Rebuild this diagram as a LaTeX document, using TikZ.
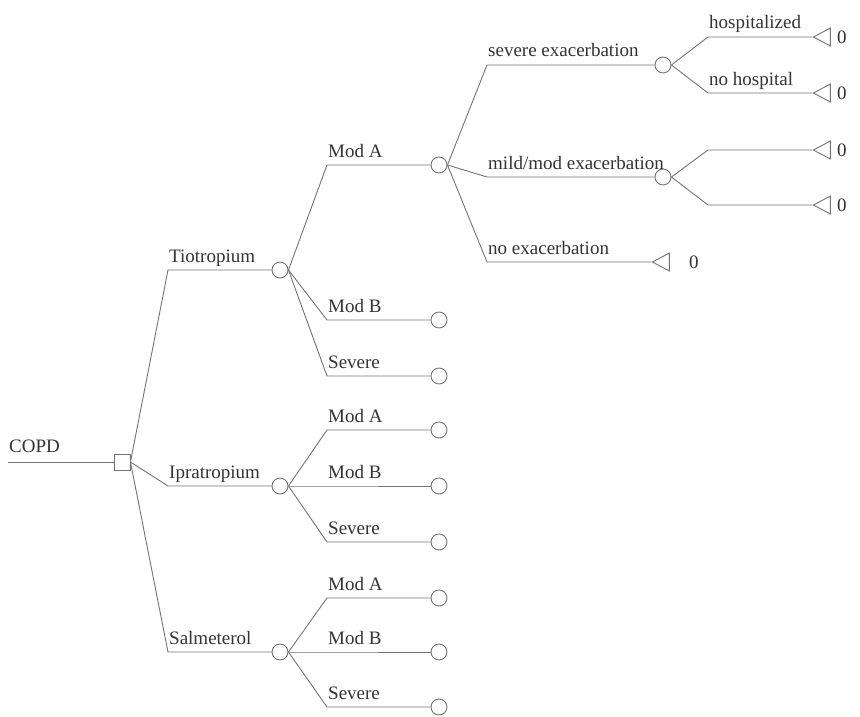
\documentclass[tikz,border=0pt]{standalone}
\usepackage{fontspec}
\setmainfont{Liberation Serif}
\usetikzlibrary{positioning, shapes.geometric}

\tikzset{
  branch/.style={draw=black!55, line width=0.9pt},
  chance/.style={circle, draw=black!55, line width=0.9pt, minimum size=16pt, inner sep=0pt},
  decision/.style={rectangle, draw=black!55, line width=0.9pt, minimum size=16pt, inner sep=0pt},
  terminal/.style={isosceles triangle, shape border rotate=180, isosceles triangle stretches,
    draw=black!55, line width=0.9pt, minimum width=18pt, minimum height=17pt, inner sep=0pt},
  lbl/.style={anchor=base west, inner sep=0pt, xshift=1pt, yshift=8pt, text=black!80},
  payoff/.style={inner sep=0pt, text=black!80}
}

\begin{document}
\begin{tikzpicture}[x=1pt, y=-1pt, font=\fontsize{19}{21}\selectfont]
        \useasboundingbox (0,0) rectangle (860,717);
        % root
        \coordinate (start) at (8,462);
        \node[decision] (dec) at (122,462) {};
        \node[lbl, yshift=2pt] (lCopd) at (start) {COPD};
        \draw[branch] (start) -- (dec);
        % drugs
        \coordinate (eTio) at (168,270);
        \coordinate (eIpr) at (168,486);
        \coordinate (eSal) at (168,652);
        \node[chance] (tio) at (280,270) {};
        \node[chance] (ipr) at (280,486) {};
        \node[chance] (sal) at (280,652) {};
        \node[lbl] (lTio) at (eTio) {Tiotropium};
        \node[lbl] (lIpr) at (eIpr) {Ipratropium};
        \node[lbl] (lSal) at (eSal) {Salmeterol};
        \draw[branch] (dec.east) -- (eTio) -- (tio);
        \draw[branch] (dec.east) -- (eIpr) -- (ipr);
        \draw[branch] (dec.east) -- (eSal) -- (sal);
        % severity under Tiotropium
        \coordinate (eTioA) at (327,165);
        \coordinate (eTioB) at (327,320);
        \coordinate (eTioS) at (327,376);
        \node[chance] (tioA) at (439,165) {};
        \node[chance] (tioB) at (439,320) {};
        \node[chance] (tioS) at (439,376) {};
        \node[lbl] (lTioA) at (eTioA) {Mod A};
        \node[lbl] (lTioB) at (eTioB) {Mod B};
        \node[lbl] (lTioS) at (eTioS) {Severe};
        \draw[branch] (tio.east) -- (eTioA) -- (tioA);
        \draw[branch] (tio.east) -- (eTioB) -- (tioB);
        \draw[branch] (tio.east) -- (eTioS) -- (tioS);
        % severity under Ipratropium
        \coordinate (eIprA) at (327,430);
        \coordinate (eIprB) at (327,486);
        \coordinate (eIprS) at (327,542);
        \node[chance] (iprA) at (439,430) {};
        \node[chance] (iprB) at (439,486) {};
        \node[chance] (iprS) at (439,542) {};
        \node[lbl] (lIprA) at (eIprA) {Mod A};
        \node[lbl] (lIprB) at (eIprB) {Mod B};
        \node[lbl] (lIprS) at (eIprS) {Severe};
        \draw[branch] (ipr.east) -- (eIprA) -- (iprA);
        \draw[branch] (ipr.east) -- (eIprB) -- (iprB);
        \draw[branch] (ipr.east) -- (eIprS) -- (iprS);
        % severity under Salmeterol
        \coordinate (eSalA) at (327,598);
        \coordinate (eSalB) at (327,652);
        \coordinate (eSalS) at (327,707);
        \node[chance] (salA) at (439,598) {};
        \node[chance] (salB) at (439,652) {};
        \node[chance] (salS) at (439,707) {};
        \node[lbl] (lSalA) at (eSalA) {Mod A};
        \node[lbl] (lSalB) at (eSalB) {Mod B};
        \node[lbl] (lSalS) at (eSalS) {Severe};
        \draw[branch] (sal.east) -- (eSalA) -- (salA);
        \draw[branch] (sal.east) -- (eSalB) -- (salB);
        \draw[branch] (sal.east) -- (eSalS) -- (salS);
        % exacerbations
        \coordinate (eSev) at (487,65);
        \coordinate (eMild) at (487,177);
        \coordinate (eNone) at (487,262);
        \node[chance] (sevx) at (663,65) {};
        \node[chance] (mildx) at (663,177) {};
        \node[terminal] (t5) at (664,262) {};
        \node[lbl] (lSev) at (eSev) {severe exacerbation};
        \node[lbl] (lMild) at (eMild) {mild/mod exacerbation};
        \node[lbl] (lNone) at (eNone) {no exacerbation};
        \draw[branch] (tioA.east) -- (eSev) -- (sevx);
        \draw[branch] (tioA.east) -- (eMild) -- (mildx);
        \draw[branch] (tioA.east) -- (eNone) -- (t5.apex);
        \node[payoff, right=19pt of t5] (p5) {0};
        % outcomes
        \coordinate (eHosp) at (708,37);
        \coordinate (eNoHosp) at (708,93);
        \coordinate (eM1) at (708,150);
        \coordinate (eM2) at (708,205);
        \node[terminal] (t1) at (825,37) {};
        \node[terminal] (t2) at (825,93) {};
        \node[terminal] (t3) at (825,150) {};
        \node[terminal] (t4) at (825,205) {};
        \node[lbl] (lHosp) at (eHosp) {hospitalized};
        \node[lbl] (lNoHosp) at (eNoHosp) {no hospital};
        \draw[branch] (sevx.east) -- (eHosp) -- (t1.apex);
        \draw[branch] (sevx.east) -- (eNoHosp) -- (t2.apex);
        \draw[branch] (mildx.east) -- (eM1) -- (t3.apex);
        \draw[branch] (mildx.east) -- (eM2) -- (t4.apex);
        \node[payoff, right=6pt of t1] (p1) {0};
        \node[payoff, right=6pt of t2] (p2) {0};
        \node[payoff, right=6pt of t3] (p3) {0};
        \node[payoff, right=6pt of t4] (p4) {0};
    \end{tikzpicture}
\end{document}
